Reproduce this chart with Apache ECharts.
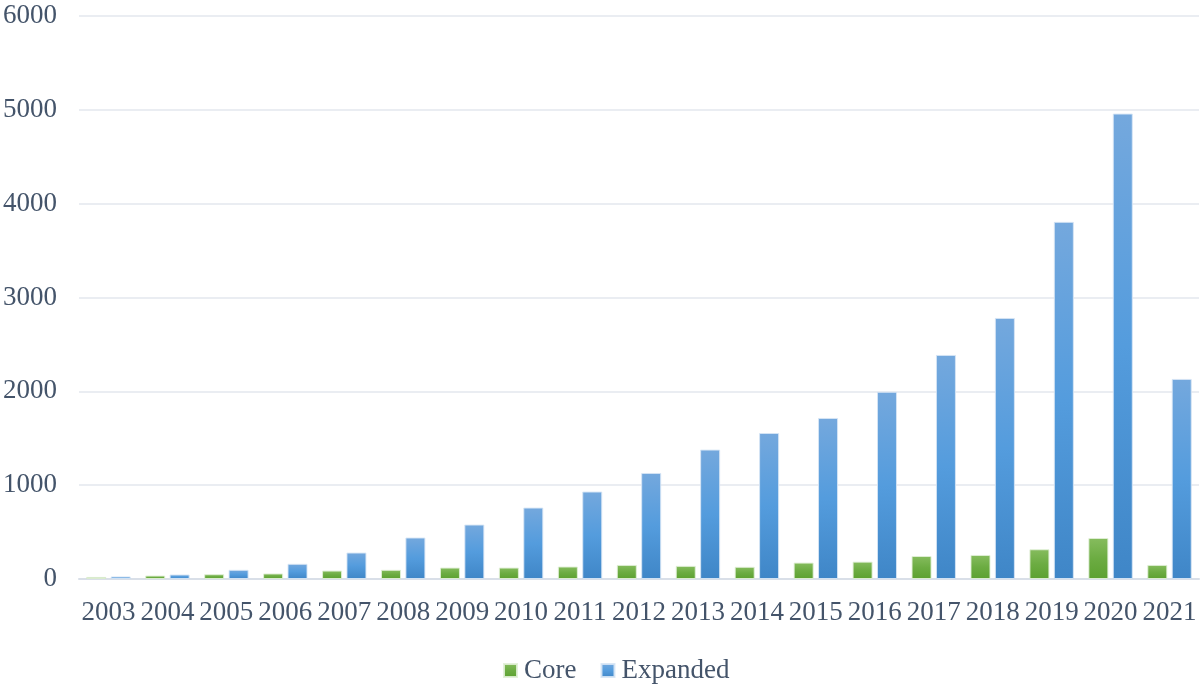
<!DOCTYPE html>
<html>
<head>
<meta charset="utf-8">
<style>
  html, body { margin: 0; padding: 0; background: #fff; }
  #chart { width: 1200px; height: 686px; }
</style>
<script src="https://cdn.jsdelivr.net/npm/echarts@6/dist/echarts.min.js"></script>
</head>
<body>
<div id="chart"></div>
<script>
// 年份
const years = ['2003','2004','2005','2006','2007','2008','2009','2010','2011','2012',
               '2013','2014','2015','2016','2017','2018','2019','2020','2021'];
// Core 系列
const coreValues = [22, 37, 51, 59, 90, 98, 122, 122, 133, 150, 140, 130, 175, 185, 245, 256, 317, 437, 150];
// Expanded 系列
const expandedValues = [27, 48, 98, 162, 282, 442, 580, 761, 932, 1130, 1379, 1556, 1716, 1995, 2388, 2782, 3806, 4960, 2132];
// y轴刻度
const yMin = 0, yMax = 6000, yStep = 1000;

const textColor = '#44546a';
const font = '"Liberation Serif", "DejaVu Serif", serif';

let chart = echarts.init(document.getElementById('chart'));

function grad(top, mid, bottom) {
  return new echarts.graphic.LinearGradient(0, 0, 0, 1, [
    {offset: 0, color: top},
    {offset: 0.5, color: mid},
    {offset: 1, color: bottom}
  ]);
}

let option = {
  animation: false,
  grid: {
    top: 16,
    bottom: 107,
    left: 76,
    right: 1
  },
  legend: {
    top: 652,
    left: 498,
    itemWidth: 13,
    itemHeight: 13,
    itemGap: 24,
    icon: 'rect',
    textStyle: {
      color: textColor,
      fontFamily: font,
      fontSize: 27,
      padding: [0, 0, 0, 2]
    },
    data: ['Core', 'Expanded']
  },
  xAxis: {
    type: 'category',
    data: years,
    axisTick: { show: false },
    axisLine: {
      show: true,
      lineStyle: { color: '#d9dfe8', width: 2 }
    },
    axisLabel: {
      color: textColor,
      fontFamily: font,
      fontSize: 27,
      margin: 20,
      interval: 0
    }
  },
  yAxis: {
    type: 'value',
    min: yMin,
    max: yMax,
    interval: yStep,
    axisLine: { show: false },
    axisTick: { show: false },
    axisLabel: {
      color: textColor,
      fontFamily: font,
      fontSize: 27,
      margin: 22,
      formatter: function (v) { return String(v); }
    },
    splitLine: {
      show: true,
      lineStyle: { color: '#e3e7ee', width: 1.5 }
    }
  },
  series: [
    {
      name: 'Core',
      type: 'bar',
      data: coreValues,
      barWidth: 20,
      barGap: '22%',
      itemStyle: {
        color: grad('#86bc5e', '#6cac42', '#5ca130'),
        borderColor: 'rgba(225,240,215,0.9)',
        borderWidth: 1
      }
    },
    {
      name: 'Expanded',
      type: 'bar',
      data: expandedValues,
      barWidth: 20,
      itemStyle: {
        color: grad('#74a8dd', '#549cdd', '#3f86c7'),
        borderColor: 'rgba(215,230,245,0.9)',
        borderWidth: 1
      }
    }
  ],
  color: ['#70ad47', '#5b9bd5']
};

chart.setOption(option);
</script>
</body>
</html>
